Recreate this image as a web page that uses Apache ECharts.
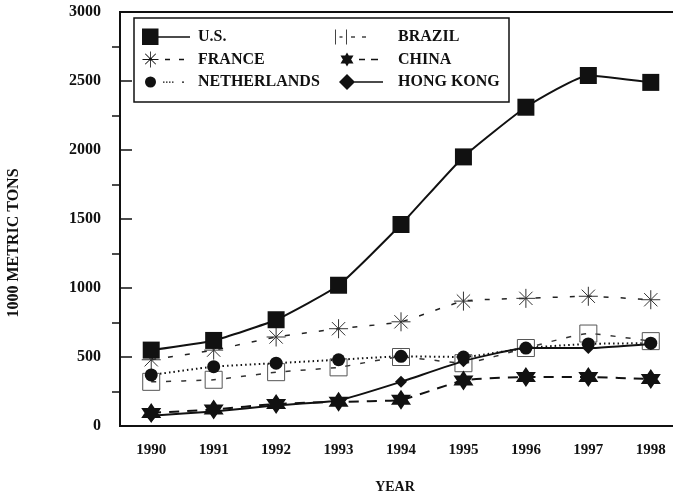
<!DOCTYPE html>
<html>
<head>
<meta charset="utf-8">
<script src="https://cdn.jsdelivr.net/npm/echarts@6/dist/echarts.min.js"></script>
<style>
  html, body { margin: 0; padding: 0; background: #fff; }
  #chart { width: 673px; height: 499px; }
</style>
</head>
<body>
<div id="chart"></div>
<script>
var years = ['1990', '1991', '1992', '1993', '1994', '1995', '1996', '1997', '1998'];
var us          = [550, 620, 770, 1020, 1460, 1950, 2310, 2540, 2490];
var france      = [480, 550, 645, 705, 755, 905, 925, 940, 915];
var netherlands = [370, 430, 455, 480, 505, 500, 565, 595, 600];
var brazil      = [320, 335, 390, 425, 500, 455, 565, 670, 615];
var china       = [95, 120, 160, 175, 190, 330, 355, 355, 340];
var hongKong    = [75, 105, 150, 185, 320, 470, 565, 565, 595];
var yTicks      = [0, 500, 1000, 1500, 2000, 2500, 3000];
var yMinorTicks = [250, 750, 1250, 1750, 2250, 2750];

var INK = '#111';
var FONT = 'Liberation Serif';

// marker shapes
var asterisk = 'path://M0,-10L0,10M-10,0L10,0M-7,-7L7,7M-7,7L7,-7';
var openBox = 'path://M0,0L20,0L20,20L0,20Z';
var sixStar = 'path://M7,1L13.06,11.5L0.94,11.5Z M7,15L0.94,4.5L13.06,4.5Z';

// legend icons: marker on the left, line sample on the right (48 x 18 box)
function dashes(list) {
  return list.map(function (d) {
    return 'M' + d[0] + ',8.2L' + d[1] + ',8.2L' + d[1] + ',9.8L' + d[0] + ',9.8Z';
  }).join(' ');
}
var corners = ' M48,0L48,0.01L47.99,0Z M0,18L0.01,18L0,17.99Z';
var iconUS = 'path://M0,0.5L16.5,0.5L16.5,17L0,17Z ' + dashes([[16, 48]]) + corners;
var iconFrance = 'path://M8.1,1L8.9,1L8.9,17L8.1,17Z M0.5,8.6L16.5,8.6L16.5,9.4L0.5,9.4Z ' +
  'M2.9,3.5L3.5,2.9L14.1,13.5L13.5,14.1Z M13.5,2.9L14.1,3.5L3.5,14.1L2.9,13.5Z ' +
  'M7,8L10,8L10,10L7,10Z ' + dashes([[23, 28], [37, 42]]) + corners;
var iconNeth = 'path://M3,9A5.5,5.5 0 1,1 14,9A5.5,5.5 0 1,1 3,9Z ' +
  'M21,8.5L22.5,8.5L22.5,9.8L21,9.8Z M24,8.5L25.5,8.5L25.5,9.8L24,9.8Z M27,8.5L28.5,8.5L28.5,9.8L27,9.8Z ' +
  'M30,8.5L31.5,8.5L31.5,9.8L30,9.8Z M40,8.5L42,8.5L42,9.8L40,9.8Z' + corners;
var iconBrazil = 'path://M0,1.5L1,1.5L1,16.5L0,16.5Z M11,1.5L12,1.5L12,16.5L11,16.5Z ' +
  dashes([[4.5, 7.5], [16, 20], [27, 31]]) + corners;
var iconChina = 'path://M12,2L18.5,13L5.5,13Z M12,16L5.5,5L18.5,5Z ' +
  dashes([[24, 30], [36, 43]]) + corners;
var iconHK = 'path://M12,1L20,9L12,17L4,9Z ' + dashes([[19, 48]]) + corners;

var chart = echarts.init(document.getElementById('chart'), null, { renderer: 'canvas' });

var labelFont = { fontFamily: FONT, fontWeight: 'bold', color: INK };

var option = {
  backgroundColor: '#fff',
  animation: false,
  grid: {
    left: 120, top: 12, width: 562, height: 414,
    outerBoundsMode: 'none',
    show: true, borderColor: INK, borderWidth: 2, backgroundColor: 'transparent'
  },
  legend: [{
    left: 142, top: 28, orient: 'vertical', padding: 0, z: 10,
    itemWidth: 48, itemHeight: 18, itemGap: 4.5,
    textStyle: Object.assign({ fontSize: 16, padding: [0, 0, 0, 3] }, labelFont),
    data: [
      { name: 'U.S.', icon: iconUS },
      { name: 'FRANCE', icon: iconFrance, itemStyle: { borderWidth: 0, color: INK } },
      { name: 'NETHERLANDS', icon: iconNeth }
    ]
  }, {
    left: 335, top: 28, orient: 'vertical', padding: 0, z: 10,
    itemWidth: 48, itemHeight: 18, itemGap: 4.5,
    textStyle: Object.assign({ fontSize: 16, padding: [0, 0, 0, 10] }, labelFont),
    data: [
      { name: 'BRAZIL', icon: iconBrazil, itemStyle: { borderWidth: 0, color: '#444' } },
      { name: 'CHINA', icon: iconChina },
      { name: 'HONG KONG', icon: iconHK }
    ]
  }],
  graphic: [{
    type: 'rect',
    shape: { x: 134, y: 18, width: 375, height: 84 },
    style: { fill: '#fff', stroke: INK, lineWidth: 1.5 },
    z: 5
  }, {
    type: 'text',
    x: 14, y: 243, rotation: Math.PI / 2,
    style: {
      text: '1000 METRIC TONS', fontFamily: FONT, fontWeight: 'bold', fontSize: 16,
      fill: INK, align: 'center', verticalAlign: 'middle'
    }
  }],
  xAxis: {
    type: 'category',
    data: years,
    boundaryGap: true,
    name: 'YEAR',
    nameLocation: 'middle',
    nameGap: 54,
    nameTextStyle: Object.assign({ fontSize: 14, padding: [0, 12, 0, 0] }, labelFont),
    axisLine: { lineStyle: { color: INK, width: 2 } },
    axisTick: { alignWithLabel: true, length: 14, lineStyle: { color: INK, width: 1.5 } },
    axisLabel: Object.assign({ fontSize: 15, margin: 17 }, labelFont),
    splitLine: { show: false }
  },
  yAxis: [{
    type: 'value',
    min: 0, max: 3000, interval: 500,
    axisLine: { show: true, lineStyle: { color: INK, width: 2 } },
    axisTick: { show: true, inside: true, length: 12, lineStyle: { color: INK, width: 1.5 }, customValues: yTicks },
    axisLabel: Object.assign({
      fontSize: 16, margin: 19, customValues: yTicks,
      formatter: function (v) { return String(v); }
    }, labelFont),
    splitLine: { show: false }
  }, {
    type: 'value',
    min: 0, max: 3000, interval: 250,
    position: 'left',
    axisLine: { show: false },
    axisTick: { show: true, inside: false, length: 8, lineStyle: { color: INK, width: 1.5 }, customValues: yMinorTicks },
    axisLabel: { show: false },
    splitLine: { show: false }
  }],
  series: [{
    name: 'BRAZIL', type: 'line', data: brazil, smooth: 0.15, z: 2,
    symbol: openBox, symbolSize: 17,
    itemStyle: { color: 'transparent', borderColor: '#555', borderWidth: 1 },
    lineStyle: { color: '#333', width: 1.5, type: [5, 10] }
  }, {
    name: 'FRANCE', type: 'line', data: france, smooth: 0.15, z: 3,
    symbol: asterisk, symbolSize: 19,
    itemStyle: { color: 'transparent', borderColor: '#333', borderWidth: 1 },
    lineStyle: { color: '#222', width: 1.5, type: [5, 12] }
  }, {
    name: 'NETHERLANDS', type: 'line', data: netherlands, smooth: 0.15, z: 3,
    symbol: 'circle', symbolSize: 13,
    itemStyle: { color: INK },
    lineStyle: { color: INK, width: 2, type: [1.5, 3] }
  }, {
    name: 'HONG KONG', type: 'line', data: hongKong, smooth: 0.15, z: 3,
    symbol: 'diamond', symbolSize: 12,
    itemStyle: { color: INK },
    lineStyle: { color: INK, width: 2 }
  }, {
    name: 'CHINA', type: 'line', data: china, smooth: 0.15, z: 4,
    symbol: sixStar, symbolSize: 20,
    itemStyle: { color: INK },
    lineStyle: { color: INK, width: 2, type: [10, 8] }
  }, {
    name: 'U.S.', type: 'line', data: us, smooth: 0.15, z: 4,
    symbol: 'rect', symbolSize: 17,
    itemStyle: { color: INK },
    lineStyle: { color: INK, width: 2 }
  }]
};

chart.setOption(option);
</script>
</body>
</html>
